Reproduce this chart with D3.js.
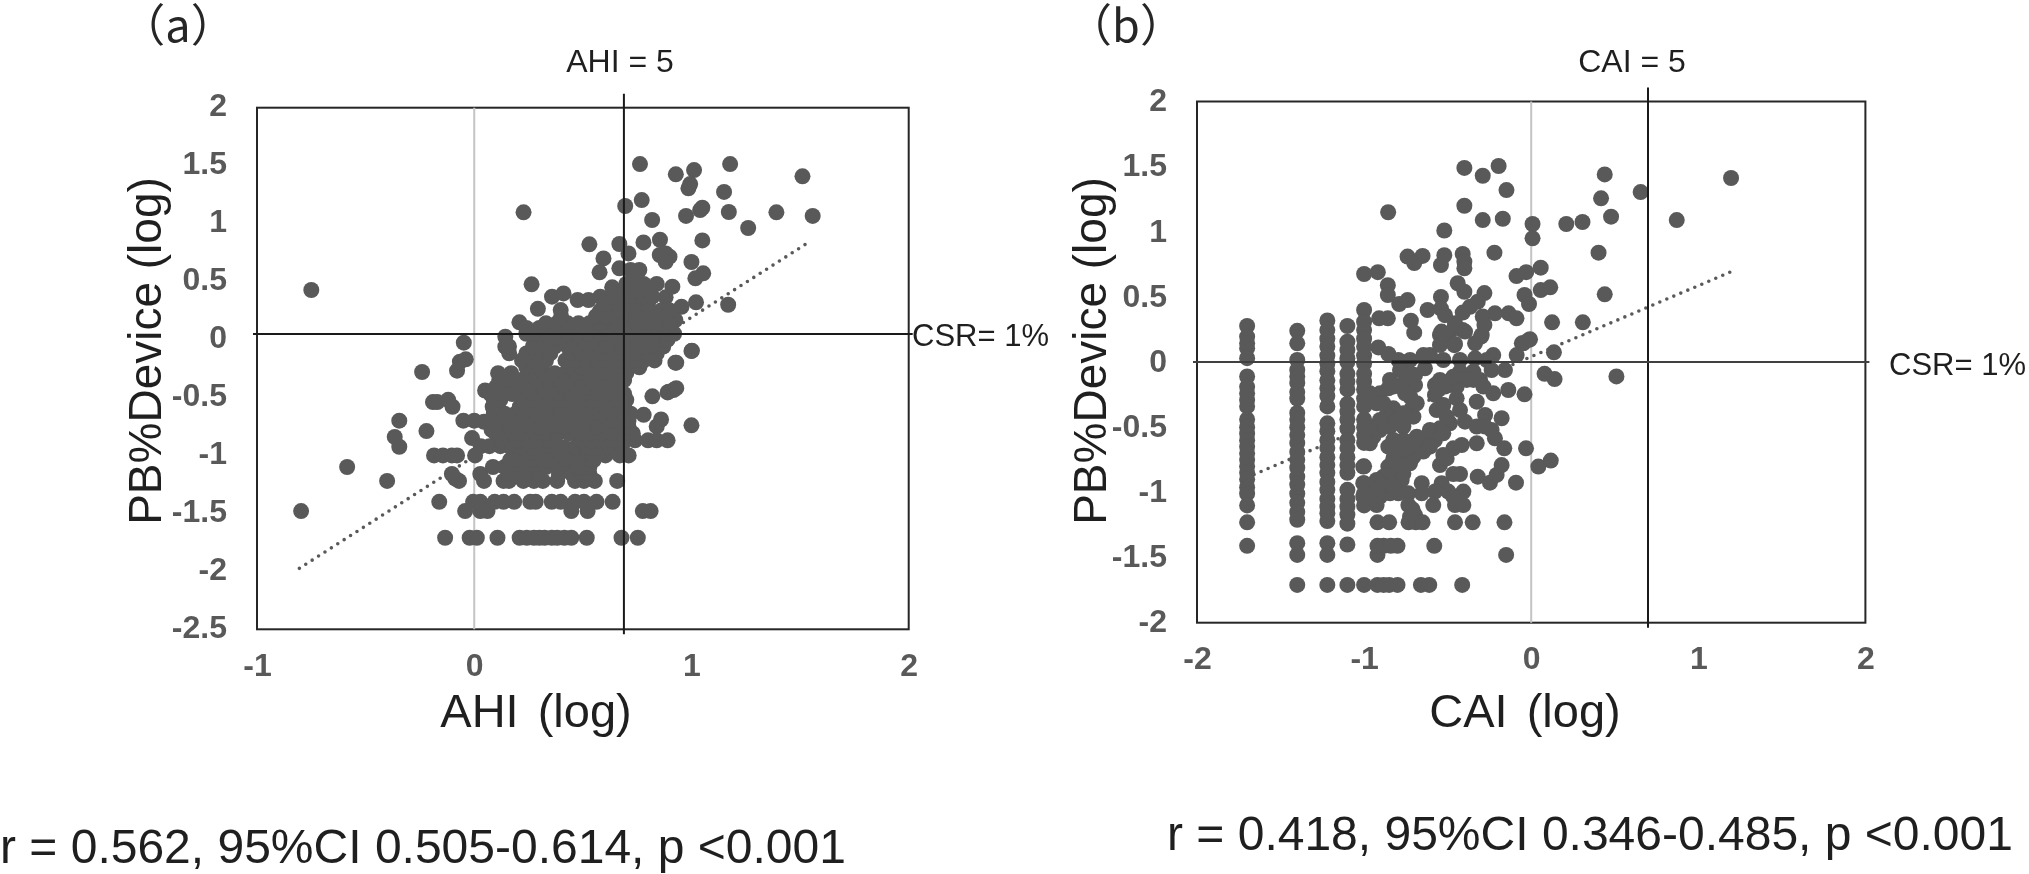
<!DOCTYPE html>
<html>
<head>
<meta charset="utf-8">
<script src="https://cdn.jsdelivr.net/npm/d3@7"></script>
<style>
  html, body { margin: 0; background: #fff; }
  svg { display: block; filter: blur(0.6px); }
  text { font-family: "Liberation Sans", Arial, sans-serif; }
</style>
</head>
<body>
<svg width="2029" height="874"></svg>
<script>
// values, all on the log scales of the two plots

// (a) rows of dots: [PB%Device, [AHI, ...]]
var rowsA = [
  [-1.71, [-.134, -.021, .012, .107, .209, .242, .275, .30, .324, .357, .382, .415, .447, .518, .678, .753]],
  [-1.48, [-.797, -.042, .028, .061, .447, .522, .776, .812]],
  [-1.40, [-.161, -.005, .028, .094, .135, .184, .258, .283, .357, .398, .464, .505, .563, .637]],
  [-1.22, [-.401, -.07, .045, .135, .16, .226, .275, .316, .382, .464, .505, .555, .658]],
  [-1.16, [-.103, .028, .16, .19, .24, .30, .39, .45, .50, .53]],
  [-1.10, [-.585, .086, .14, .19, .24, .29, .33, .39, .44, .49, .53]],
  [-1.07, [.165, .215, .265, .315, .415, .465, .515]],
  [-1.04, [.165, .215, .265, .315, .365, .415, .465, .515, .55]],
  [-1.00, [-.185, -.144, -.103, -.079, .004, .604, .67, .711]],
  [-.98, [.19, .24, .29, .34, .39, .44, .49, .54, .58]],
  [-.93, [.215, .265, .315, .365, .415, .465, .515, .565, .60]],
  [-.92, [.03, .07, .12, .16, .62, .68]],
  [-.87, [.12, .20, .25, .30, .35, .37, .49, .54, .59, .64, .69, .74, .80, .84, .89]],
  [-.81, [.10, .14, .185, .235, .285, .335, .385, .435, .485, .535, .585, .635, .685, .73]],
  [-.75, [.11, .16, .21, .26, .31, .36, .41, .46, .51, .56, .61, .66, .71]],
  [-.70, [.115, .165, .215, .265, .315, .365, .415, .465, .515, .565, .615, .665, .71]],
  [-.64, [.09, .14, .19, .24, .29, .34, .39, .44, .49, .54, .59, .64, .69, .72]],
  [-.58, [.085, .21, .245, .295, .345, .395, .445, .495, .545, .595, .645, .69]],
  [-.52, [.09, .12, .22, .27, .32, .37, .42, .47, .52, .57, .62, .66, .70]],
  [-.47, [.075, .125, .175, .225, .275, .345, .395, .445, .495, .545, .595, .645, .69]],
  [-.41, [.10, .15, .20, .25, .32, .37, .42, .47, .52, .57, .62, .67]],
  [-.35, [.115, .16, .215, .295, .345, .395, .445, .495, .545, .595, .645, .69]],
  [-.29, [.11, .17, .27, .32, .37, .42, .47, .52, .57, .62, .67, .70]],
  [-.24, [.24, .30, .445, .495, .545, .595, .645, .70, .76]],
  [-.18, [.22, .27, .33, .42, .47, .52, .57, .62, .67, .73, .78, .83]],
  [-.12, [.24, .29, .35, .445, .495, .545, .595, .645, .695, .745, .80, .84]],
  [-.06, [.16, .27, .32, .37, .43, .48, .53, .58, .63, .68, .73, .78, .83, .87]],
  [0, [.30, .355, .405, .455, .505, .555, .605, .655, .705, .755, .805, .855, .89]],
  [.05, [.24, .28, .33, .38, .43, .48, .53, .58, .63, .68, .73, .78, .83, .88, .92]],
  [.10, [.24, .30, .35, .405, .455, .505, .555, .605, .675, .725, .775, .825, .875]],
  [.14, [.33, .38, .43, .48, .53, .58, .65, .70, .75, .80, .85, .90]],
  [.20, [.40, .56, .60, .62, .65, .69, .735, .78, .83]],
  [.25, [.58, .63, .67, .71, .76, .80, .86, .90]],
  [.31, [.60, .66, .71, .755, .80]],
  [.37, [.58, .64, .69, .73, .78, .82]],
  [.42, [.69, .72, .76, .80]],
  [.48, [.70, .74, .78, .84]],
  [.60, [.72, .76]]
];

// (a) loose dots: [AHI, PB%Device]
var looseA = [
  [.763, 1.514], [.928, 1.425], [1.012, 1.462], [1.178, 1.514], [1.511, 1.408], [.986, 1.304], [.994, 1.341],
  [1.15, 1.273], [.771, 1.203], [.695, 1.152], [.227, 1.097], [.975, 1.066], [1.04, 1.117], [1.05, 1.137],
  [1.172, 1.10], [1.391, 1.097], [1.558, 1.066], [.819, 1.031], [1.261, .962], [.53, .821], [.668, .824],
  [.779, .838], [.855, .861], [1.05, .855], [.71, .743], [.854, .729], [.881, .743], [.899, .715], [.881, .671],
  [.595, .70], [1.0, .669], [.577, .58], [.668, .614], [1.054, .571], [1.018, .528], [.264, .476], [.912, .456],
  [.881, .364], [.358, .37], [.411, .398], [.635, .45], [.476, .341], [.526, .341], [1.021, .321], [1.169, .30],
  [.954, .283], [.293, .265], [.862, .24], [.398, .254], [.208, .148], [.926, .168], [.143, .024], [.143, -.062],
  [.161, -.119], [-.048, -.027], [-.066, -.191], [-.039, -.171], [-.079, -.269], [1.002, -.096], [.926, -.20],
  [.917, -.436], [.89, -.456], [-.75, .427], [-.24, -.28], [-.19, -.54], [-.17, -.54], [-.12, -.52], [-.10, -.58],
  [-.345, -.70], [-.22, -.79], [-.366, -.84], [-.345, -.925], [-.05, -.70], [0, -.70], [.045, -.71], [.08, -.78],
  [-.01, -.85], [.78, -.65], [.86, -.69], [.84, -.75], [1.0, -.74], [.93, -.20], [1.0, -.10], [.895, -.45],
  [.93, -.42], [.82, -.49], [.05, -.44], [-.087, -1.20]
];

// (b) columns of dots: [CAI, [PB%Device, ...]]
var columnsB = [
  [-1.70, [.277, .195, .144, .106, .03, -.11, -.19, -.24, -.29, -.34, -.44, -.50, -.55, -.60, -.65, -.70, -.75, -.80, -.85, -.90, -.96, -1.01, -1.10, -1.23, -1.41]],
  [-1.40, [.24, .144, .016, -.06, -.11, -.16, -.23, -.28, -.39, -.44, -.50, -.56, -.62, -.69, -.75, -.81, -.88, -.94, -1.01, -1.08, -1.15, -1.21, -1.39, -1.48, -1.71]],
  [-1.22, [.32, .246, .18, .12, .05, -.01, -.07, -.14, -.20, -.26, -.34, -.47, -.53, -.60, -.66, -.73, -.79, -.85, -.92, -.98, -1.05, -1.11, -1.16, -1.22, -1.39, -1.48, -1.71]],
  [-1.10, [.277, .157, .093, .03, 0, -.09, -.15, -.21, -.32, -.38, -.44, -.51, -.60, -.66, -.73, -.79, -.85, -.98, -1.05, -1.11, -1.17, -1.24, -1.40, -1.71]],
  [-1.00, [.40, .31, .246, .18, .12, .05, -.01, -.09, -.15, -.21, -.28, -.34, -.44, -.50, -.56, -.62, -.80, -.93, -1.01, -1.10, -1.71]]
];

// (b) rows of dots: [PB%Device, [CAI, ...]]
var rowsB = [
  [-1.71, [-.92, -.883, -.85, -.80, -.66, -.61, -.413]],
  [-1.41, [-.92, -.883, -.84, -.80, -.58]],
  [-1.23, [-.92, -.85, -.734, -.69, -.65, -.456, -.35, -.16]]
];

// (b) loose dots: [CAI, PB%Device]
var looseB = [
  [-.856, 1.15], [-.40, 1.49], [-.29, 1.43], [-.195, 1.505], [-.148, 1.32], [-.40, 1.20], [-.29, 1.09], [-.17, 1.10],
  [.008, 1.06], [.008, .95], [.21, 1.06], [.307, 1.075], [.44, 1.44], [.418, 1.257], [.478, 1.116], [.403, .84],
  [.44, .52], [.309, .305], [-.52, 1.01], [-.22, .84], [-1.0, .676], [-.918, .69], [-.74, .81], [-.70, .76], [-.65, .815],
  [-.52, .82], [-.54, .745], [-.41, .83], [-.40, .77], [-.40, .72], [-.858, .59], [-.858, .515], [-.79, .446], [-.74, .476],
  [-.91, .336], [-.858, .336], [-.72, .318], [-.70, .226], [-.62, .40], [-.54, .50], [-.54, .41], [-.516, .36], [-.44, .605],
  [-.40, .54], [-.28, .53], [-.32, .464], [-.366, .425], [-.41, .38], [-.29, .35], [-.217, .374], [-.135, .374], [-.088, .336],
  [-.088, .66], [-.03, .69], [.057, .725], [-.04, .515], [-.013, .446], [.057, .553], [.114, .574], [.125, .305], [.136, .075],
  [-.014, .17], [-.056, .144], [-.28, .285], [-.30, .195], [-.537, .234], [-.46, .26], [-.41, .246], [-.495, .17], [-.46, .13],
  [-.456, .298], [-.546, .208], [.08, -.09], [.14, -.13], [.51, -.11], [.655, 1.305], [1.196, 1.413], [.871, 1.09],
  [-.04, -.247], [-.15, -1.48], [-.92, -1.48], [-.71, -1.13]
];

// (b) the crowded part of the cloud: [CAI, PB%Device]
var cloudB = [
  [-.915, .113], [-.855, .062], [-.795, .016], [-.725, .016], [-.645, .054], [-.606, .054], [-.546, .131], [-.456, .139],
  [-.336, .144], [-.296, .208], [-.526, .221], [-.396, .234], [-.227, .054], [-.266, .016], [-.087, .054], [-.047, .144],
  [-.007, .175], [-.526, .016], [-.426, .016], [-.336, .029], [-.636, -.048], [-.785, -.061], [-.845, -.137], [-.725, -.086],
  [-.695, -.176], [-.576, -.176], [-.576, -.252], [-.426, -.073], [-.346, -.073], [-.306, -.137], [-.386, -.137], [-.446, -.188],
  [-.516, -.188], [-.237, -.061], [-.157, -.061], [-.137, -.214], [-.227, -.24], [-.326, -.304], [-.446, -.278], [-.526, -.329],
  [-.566, -.368], [-.426, -.368], [-.396, -.457], [-.486, -.47], [-.276, -.406], [-.177, -.431], [-.326, -.495], [-.237, -.521],
  [-.217, -.585], [-.161, -.662], [-.031, -.662], [-.326, -.623], [-.416, -.636], [-.466, -.662], [-.526, -.713], [-.546, -.79],
  [-.506, -.739], [-.905, -.24], [-.855, -.201], [-.725, -.265], [-.715, -.355], [-.825, -.355], [-.705, -.419], [-.765, -.495],
  [-.845, -.495], [-.905, -.521], [-.905, -.444], [-.865, -.406], [-.945, -.572], [-.546, -.508], [-.606, -.521], [-.576, -.598],
  [-.646, -.636], [-.626, -.572], [-.685, -.572], [-.765, -.598], [-.825, -.598], [-.855, -.649], [-.646, -.687], [-.705, -.726],
  [-.765, -.802], [-.825, -.739], [-.855, -.802], [-.785, -.70], [-.715, -.636], [-.825, -.854], [-.885, -.879], [-.925, -.905],
  [-.765, -.854], [-.865, -.956], [-.905, -.93], [-.426, -.859], [-.466, -.859], [-.32, -.879], [-.247, -.925], [-.207, -.866],
  [-.177, -.79], [-.091, -.925], [.043, -.802], [.117, -.756], [-.655, -.93], [-.536, -.93], [-.576, -.994], [-.496, -.994],
  [-.406, -.994], [-.466, -1.033], [-.735, -1.007], [-.795, -1.007], [-.845, -1.007], [-.905, -1.033], [-.655, -1.007],
  [-.735, -1.097], [-.586, -1.097], [-.456, -1.097], [-.406, -1.097], [-1.005, -.802], [-1.005, -.93], [-1.005, -1.033],
  [-.925, -1.097], [-.965, -1.059], [-.725, -1.186], [-.695, -1.174],
  [-.765, -.163], [-.825, -.188], [-.695, -.099], [-.755, -.24], [-.685, -.316], [-.765, -.393], [-.805, -.444], [-.965, -.24],
  [-.825, -.675], [-.755, -.675], [-.805, -.777], [-.725, -.777], [-.606, -.649], [-.526, -.547], [-.775, -.905], [-.825, -.943],
  [-.925, -.969], [-.546, -.137], [-.506, -.419], [-.346, -.137], [-.286, -.188], [-.466, -.112], [-.276, -.495], [-.925, -.316],
  [-.885, -.316], [-.965, -.495], [-.965, -.623]
];

var trendA = [[-.805, -1.974], [1.536, .835]];
var trendB = [[-1.70, -.885], [1.19, .69]];
var csrDarkB = [-.835, -.237];  // stretch of the CSR line in (b) drawn twice

var xTicksA = [-1, 0, 1, 2];
var xTicksB = [-2, -1, 0, 1, 2];
var yTicksA = [-2.5, -2, -1.5, -1, -.5, 0, .5, 1, 1.5, 2];
var yTicksB = [-2, -1.5, -1, -.5, 0, .5, 1, 1.5, 2];

var pointsA = looseA.concat(d3.merge(rowsA.map(function(r) {
  return r[1].map(function(x) { return [x, r[0]]; });
})));
var pointsB = looseB.concat(cloudB, d3.merge(rowsB.map(function(r) {
  return r[1].map(function(x) { return [x, r[0]]; });
})), d3.merge(columnsB.map(function(c) {
  return c[1].map(function(y) { return [c[0], y]; });
})));

var svg = d3.select("svg");

function panel(o) {
  var x = d3.scaleLinear().domain(o.xDomain).range([o.left, o.right]);
  var y = d3.scaleLinear().domain(o.yDomain).range([o.bottom, o.top]);
  var g = svg.append("g");

  g.append("rect")
    .attr("x", o.left).attr("y", o.top)
    .attr("width", o.right - o.left).attr("height", o.bottom - o.top)
    .attr("fill", "none").attr("stroke", "#262626").attr("stroke-width", 2);

  // zero axis of the plot
  g.append("line")
    .attr("x1", x(0)).attr("x2", x(0)).attr("y1", o.top).attr("y2", o.bottom)
    .attr("stroke", "#c4c4c4").attr("stroke-width", 2);

  g.append("line")
    .attr("x1", x(o.trend[0][0])).attr("y1", y(o.trend[0][1]))
    .attr("x2", x(o.trend[1][0])).attr("y2", y(o.trend[1][1]))
    .attr("stroke", "#595959").attr("stroke-width", 3.6)
    .attr("stroke-linecap", "round").attr("stroke-dasharray", "0 7.6");

  g.selectAll("circle")
    .data(o.points)
    .enter().append("circle")
      .attr("cx", function(d) { return x(d[0]); })
      .attr("cy", function(d) { return y(d[1]); })
      .attr("r", 8)
      .attr("fill", "#595959");

  // AHI/CAI = 5 and CSR = 1% cut-offs, they stick out of the frame
  g.append("line")
    .attr("x1", x(o.cutX)).attr("x2", x(o.cutX)).attr("y1", o.top - 14).attr("y2", o.bottom + 5)
    .attr("stroke", "#1a1a1a").attr("stroke-width", 2);
  g.append("line")
    .attr("x1", o.left - 4).attr("x2", o.right + 4).attr("y1", y(o.cutY)).attr("y2", y(o.cutY))
    .attr("stroke", o.cutColor).attr("stroke-width", 2);
  if (o.cutDark) {
    g.append("line")
      .attr("x1", x(o.cutDark[0])).attr("x2", x(o.cutDark[1])).attr("y1", y(o.cutY)).attr("y2", y(o.cutY))
      .attr("stroke", "#1a1a1a").attr("stroke-width", 3);
  }

  var xAxis = g.append("g")
    .attr("transform", "translate(0," + o.bottom + ")")
    .call(d3.axisBottom(x).tickValues(o.xTicks).tickFormat(d3.format("")).tickSize(0).tickPadding(24));
  var yAxis = g.append("g")
    .attr("transform", "translate(" + o.left + ",0)")
    .call(d3.axisLeft(y).tickValues(o.yTicks).tickFormat(d3.format("")).tickSize(0).tickPadding(30));
  [xAxis, yAxis].forEach(function(a) {
    a.select(".domain").remove();
    a.selectAll("text")
      .attr("font-family", "Liberation Sans")
      .attr("font-size", 32).attr("font-weight", "bold").attr("fill", "#595959")
      .text(function(d) { return String(d).replace("\u2212", "-"); });
  });
  yAxis.selectAll("text").attr("y", o.yTickShift);

  function label(text, lx, ly, size, anchor) {
    return g.append("text")
      .attr("x", lx).attr("y", ly)
      .attr("font-size", size).attr("fill", "#1f1f1f")
      .attr("text-anchor", anchor || "middle")
      .text(text);
  }

  label(o.tag, o.tagX, 42, 45).style("font-family", "'Noto Sans CJK JP'").attr("fill", "#262626");
  label(o.cutLabel, o.cutLabelX, 72, 32);
  label("CSR= 1%", o.csrX, o.csrY, 31, "start");
  label(o.xTitle, o.xTitleX, 727, 47).attr("word-spacing", 6);
  label("PB%Device (log)", 0, 0, 46)
    .attr("transform", "translate(" + o.yTitleX + ",351) rotate(-90)");
  label(o.stat, o.statX, o.statY, 48, "start");
}

panel({
  left: 257, right: 908.7, top: 107.7, bottom: 629.3,
  xDomain: [-1, 2], yDomain: [-2.5, 2],
  xTicks: xTicksA, yTicks: yTicksA, yTickShift: -2.5,
  points: pointsA, trend: trendA,
  cutX: .689, cutY: .048, cutColor: "#1a1a1a",
  tag: "（a）", tagX: 178,
  cutLabel: "AHI = 5", cutLabelX: 620,
  csrX: 912, csrY: 346,
  xTitle: "AHI (log)", xTitleX: 536, yTitleX: 161,
  stat: "r = 0.562, 95%CI 0.505-0.614, p <0.001", statX: 0, statY: 863
});

panel({
  left: 1197, right: 1865.4, top: 101.5, bottom: 622.7,
  xDomain: [-2, 2], yDomain: [-2, 2],
  xTicks: xTicksB, yTicks: yTicksB, yTickShift: -1,
  points: pointsB, trend: trendB,
  cutX: .699, cutY: 0, cutColor: "#404040", cutDark: csrDarkB,
  tag: "（b）", tagX: 1126,
  cutLabel: "CAI = 5", cutLabelX: 1632,
  csrX: 1889, csrY: 375,
  xTitle: "CAI (log)", xTitleX: 1525, yTitleX: 1106,
  stat: "r = 0.418, 95%CI 0.346-0.485, p <0.001", statX: 1167, statY: 850
});
</script>
</body>
</html>
